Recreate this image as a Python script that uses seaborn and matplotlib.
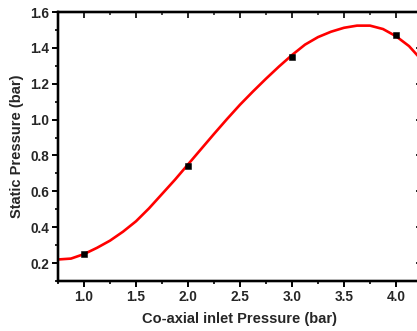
import matplotlib
matplotlib.use("Agg")
import matplotlib.pyplot as plt
import seaborn as sns
import pandas as pd
from matplotlib.ticker import MultipleLocator, FormatStrFormatter

sns.set_style("white")
plt.rcParams['font.family'] = ['Liberation Sans', 'DejaVu Sans']
plt.rcParams['font.weight'] = 'bold'

# measured points
meas_x = [1.0, 2.0, 3.0, 4.0]
meas_y = [0.25, 0.74, 1.35, 1.47]

# fitted curve
curve_x = [0.75, 0.875, 1.0, 1.125, 1.25, 1.375, 1.5, 1.625, 1.75, 1.875, 2.0,
           2.125, 2.25, 2.375, 2.5, 2.625, 2.75, 2.875, 3.0, 3.125, 3.25, 3.375,
           3.5, 3.625, 3.75, 3.875, 4.0, 4.125, 4.25]
curve_y = [0.22, 0.225, 0.25, 0.285, 0.325, 0.375, 0.433, 0.505, 0.585, 0.665, 0.75,
           0.835, 0.92, 1.003, 1.083, 1.157, 1.228, 1.296, 1.36, 1.418, 1.46, 1.49,
           1.512, 1.524, 1.524, 1.505, 1.465, 1.41, 1.33]

x_label = "Co-axial inlet Pressure (bar)"
y_label = "Static Pressure (bar)"

fig = plt.figure(figsize=(4.17, 3.31), dpi=100)
ax = fig.add_axes([58/417, 1-281/331, (422-58)/417, (281-12)/331])

df_c = pd.DataFrame({"x": curve_x, "y": curve_y})
df_m = pd.DataFrame({"x": meas_x, "y": meas_y})
sns.lineplot(data=df_c, x="x", y="y", ax=ax, color="#ff0000", lw=1.9, sort=False, zorder=2)
sns.scatterplot(data=df_m, x="x", y="y", ax=ax, color="black", marker="s", s=22,
                edgecolor="black", zorder=3)

ax.set_xlim(0.75, 4.25)
ax.set_ylim(0.1, 1.6)
ax.xaxis.set_major_locator(MultipleLocator(0.5))
ax.xaxis.set_minor_locator(MultipleLocator(0.25))
ax.yaxis.set_major_locator(MultipleLocator(0.2))
ax.yaxis.set_minor_locator(MultipleLocator(0.1))
ax.xaxis.set_major_formatter(FormatStrFormatter('%.1f'))
ax.yaxis.set_major_formatter(FormatStrFormatter('%.1f'))

ax.tick_params(axis='both', which='major', direction='out', length=4.5, width=1.4,
               labelsize=9.8, pad=2, color='black')
ax.tick_params(axis='both', which='minor', direction='out', length=2.5, width=1.2, color='black')

axt = ax.twiny()
axt.set_xlim(ax.get_xlim())
axt.xaxis.set_major_locator(MultipleLocator(0.5))
axt.xaxis.set_minor_locator(MultipleLocator(0.25))
axt.tick_params(axis='x', which='major', direction='in', length=4.5, width=1.4, labeltop=False)
axt.tick_params(axis='x', which='minor', direction='in', length=2.5, width=1.2)
axr = ax.twinx()
axr.set_ylim(ax.get_ylim())
axr.yaxis.set_major_locator(MultipleLocator(0.2))
axr.yaxis.set_minor_locator(MultipleLocator(0.1))
axr.tick_params(axis='y', which='major', direction='in', length=4.5, width=1.4, labelright=False)
axr.tick_params(axis='y', which='minor', direction='in', length=2.5, width=1.2)
for a in (ax, axt, axr):
    for s in a.spines.values():
        s.set_linewidth(1.6)
        s.set_color("black")

for lab in ax.get_xticklabels() + ax.get_yticklabels():
    lab.set_fontweight('bold')

ax.set_xlabel(x_label, fontsize=10.5, fontweight='bold', labelpad=6)
ax.set_ylabel(y_label, fontsize=10.5, fontweight='bold', labelpad=4)

fig.savefig("out.png", dpi=100)
